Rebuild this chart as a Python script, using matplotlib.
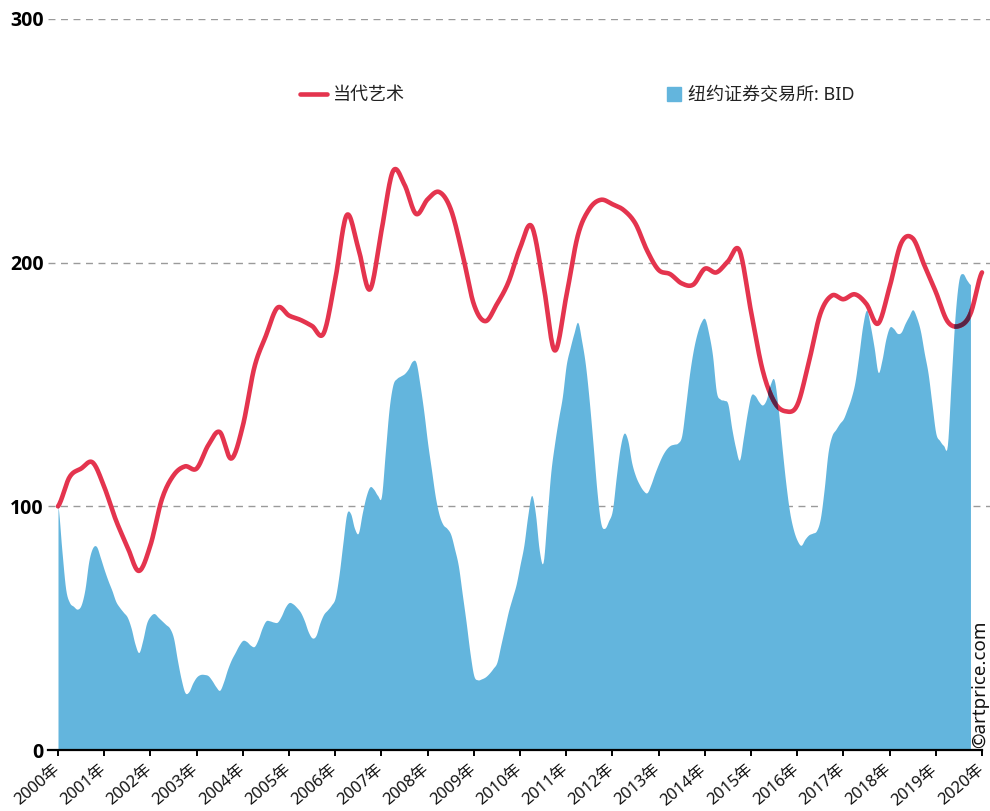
import numpy as np
import matplotlib
matplotlib.use("Agg")
import matplotlib.pyplot as plt
from matplotlib.lines import Line2D

plt.rcParams['font.family'] = ['Noto Sans', 'Noto Sans CJK SC', 'DejaVu Sans']

# ---------------- data ----------------
# 当代艺术 index, quarterly from 2000 Q1 to 2020 Q1
art_start_year = 2000
art_values = [
    100, 112, 115.5, 118, 108, 94.5, 83.5, 73.5, 84, 103, 112.7, 116.4,
    115.5, 125, 130.5, 119.6, 133, 157, 170, 181.5, 178.3, 176.5, 174, 171,
    193, 219.5, 206, 189, 213, 237.5, 232, 220, 226, 229, 222, 204,
    183, 176, 183, 192, 206, 215, 192, 164, 186, 211, 222, 225.8,
    224, 221.5, 216, 205, 197, 195.3, 191.5, 191, 197.5, 196, 200.5, 205,
    180, 156, 143, 139, 141.5, 159, 179, 186.5, 185, 187, 183, 175,
    190, 208, 210, 199, 188, 176, 174, 179, 196,
]

# 纽约证券交易所: BID, monthly from Jan 2000
bid_values = [
    100, 82, 66, 60.5, 59, 57.8, 59.5, 66, 77.5, 83, 83.5, 79,
    74, 69.5, 65.5, 61, 58.5, 56.5, 54.5, 50, 43.5, 40, 45, 52,
    55, 56, 54.5, 53, 51.5, 50, 46, 37, 29, 23.5, 24, 27.5,
    30, 31, 31, 30.5, 28.5, 26, 24.5, 28, 33, 37, 40, 43,
    45, 44.5, 43, 42.5, 45.5, 50, 53, 53, 52.5, 52.5, 55, 58.5,
    60.5, 60, 58.5, 56.5, 53, 48.5, 46, 47, 52, 55.7, 57.5, 59.5,
    62.5, 72, 85, 97, 97, 91, 89, 97, 104, 108, 107, 104.5,
    104, 122, 140, 150, 152.5, 153.5, 154.5, 156.5, 159.5, 159, 150, 139,
    126, 115, 104, 96.5, 92.5, 91, 88.5, 82.5, 75.5, 64, 52.5, 40,
    30.5, 28.8, 29.2, 30, 31.5, 33.5, 36, 43, 50, 57, 62.5, 68,
    76, 84, 96, 104.5, 97, 82, 77, 95, 114, 126, 136, 145,
    158, 165, 171, 175.5, 168, 158, 143, 125, 106, 93, 91, 94,
    98.5, 112, 124, 130, 127, 118, 112.5, 109, 106.5, 105.6, 109, 113.5,
    117.5, 121, 123.5, 125, 125.5, 126, 129, 141, 154, 164, 171, 175.5,
    177, 171, 162, 147, 144, 143.5, 142, 132, 124, 119, 128, 138,
    145.5, 145.5, 143, 141.6, 144, 150, 152, 141, 125, 110, 98, 90.5,
    86, 84, 86.5, 88.3, 89, 90, 95, 107, 122, 129, 131.5, 134,
    136, 140, 144.5, 151, 162, 174, 180.5, 174, 165, 155, 160, 168.5,
    173.5, 173, 171, 171.5, 175, 178, 180.7, 177.5, 172, 163, 154.5, 142,
    130, 127, 125, 125, 152, 178, 193, 195.5, 193, 191,
]

year_ticks = list(range(2000, 2021))
year_labels = [f"{y}年" for y in year_ticks]
y_ticks = [0, 100, 200, 300]
series_names = ["当代艺术", "纽约证券交易所: BID"]

art_x = art_start_year + np.arange(len(art_values)) / 4.0
bid_x = 2000 + np.arange(len(bid_values)) / 12.0

RED = '#E4344E'
BLUE = '#63B5DD'
OVER = '#5A2446'   # multiply blend of red on blue


def smooth(x, y, n=12):
    x = np.asarray(x, float)
    y = np.asarray(y, float)
    px = np.concatenate([[2 * x[0] - x[1]], x, [2 * x[-1] - x[-2]]])
    py = np.concatenate([[y[0]], y, [y[-1]]])
    t = np.linspace(0, 1, n, endpoint=False)
    t2, t3 = t * t, t * t * t
    xs, ys = [], []
    for i in range(1, len(px) - 2):
        for arr, out in ((px, xs), (py, ys)):
            p0, p1, p2, p3 = arr[i - 1], arr[i], arr[i + 1], arr[i + 2]
            out.append(0.5 * (2 * p1 + (-p0 + p2) * t
                              + (2 * p0 - 5 * p1 + 4 * p2 - p3) * t2
                              + (-p0 + 3 * p1 - 3 * p2 + p3) * t3))
    xs = np.concatenate(xs + [[x[-1]]])
    ys = np.concatenate(ys + [[y[-1]]])
    return xs, ys


W, H = 990, 811
fig = plt.figure(figsize=(W / 100, H / 100), dpi=100)
ax = fig.add_axes([48 / W, (H - 750) / H, (990 - 48) / W, (750 - 19) / H])

ppy = (982 - 58) / 20.0
ax.set_xlim(2000 - 10 / ppy, 2020 + 8 / ppy)
ax.set_ylim(0, 300)

# grid
for v in y_ticks[1:]:
    ax.axhline(v, color='#9a9a9a', lw=1.0, ls=(0, (5, 4)), zorder=1)

# area
bx, by = smooth(bid_x, bid_values, n=6)
by = np.clip(by, 0, None)
area = ax.fill_between(bx, 0, by, color=BLUE, lw=0, zorder=2)

# line
lx, ly = smooth(art_x, art_values, n=16)
ax.plot(lx, ly, color=RED, lw=3.3, solid_capstyle='round',
        solid_joinstyle='round', zorder=3, clip_on=False)
over, = ax.plot(lx, ly, color=OVER, lw=3.3, solid_capstyle='round',
                solid_joinstyle='round', zorder=4, clip_on=True)
over.set_clip_path(area.get_paths()[0], transform=ax.transData)

# axes styling
for s in ['left', 'right', 'top']:
    ax.spines[s].set_visible(False)
ax.spines['bottom'].set_color('black')
ax.spines['bottom'].set_linewidth(1.6)
ax.spines['bottom'].set_bounds(ax.get_xlim()[0], 2020)
ax.spines['bottom'].set_zorder(5)

ax.set_xticks(year_ticks)
ax.set_xticklabels(year_labels, rotation=40, ha='right', va='center',
                   rotation_mode='anchor', fontsize=11.8, color='#111111')
ax.tick_params(axis='x', direction='out', length=4, width=1.4, color='black', pad=9)

ax.set_yticks(y_ticks)
ax.set_yticklabels([str(v) for v in y_ticks], fontsize=14, fontweight='bold',
                   family=['Open Sans', 'DejaVu Sans'])
ax.tick_params(axis='y', length=0, pad=3)

# legend
leg1 = ax.legend(handles=[Line2D([], [], color=RED, lw=3.3, solid_capstyle='round')],
                 labels=[series_names[0]], loc='center left',
                 bbox_to_anchor=(300 / W, (H - 95) / H), bbox_transform=fig.transFigure,
                 frameon=False, borderpad=0, borderaxespad=0, handlelength=1.5,
                 handletextpad=0.35, fontsize=13, labelcolor='#222222')
ax.add_artist(leg1)
leg2 = ax.legend(handles=[Line2D([], [], color=BLUE, marker='s', ls='none', markersize=10)],
                 labels=[series_names[1]], loc='center left',
                 bbox_to_anchor=(666 / W, (H - 95) / H), bbox_transform=fig.transFigure,
                 frameon=False, borderpad=0, borderaxespad=0, handlelength=0.85,
                 handletextpad=0.35, fontsize=13, labelcolor='#222222')

fig.text(989 / W, (H - 748) / H, "©artprice.com", rotation=90, ha='right',
         va='bottom', fontsize=13.5, color='#111111')

fig.savefig('out.png', dpi=100)
